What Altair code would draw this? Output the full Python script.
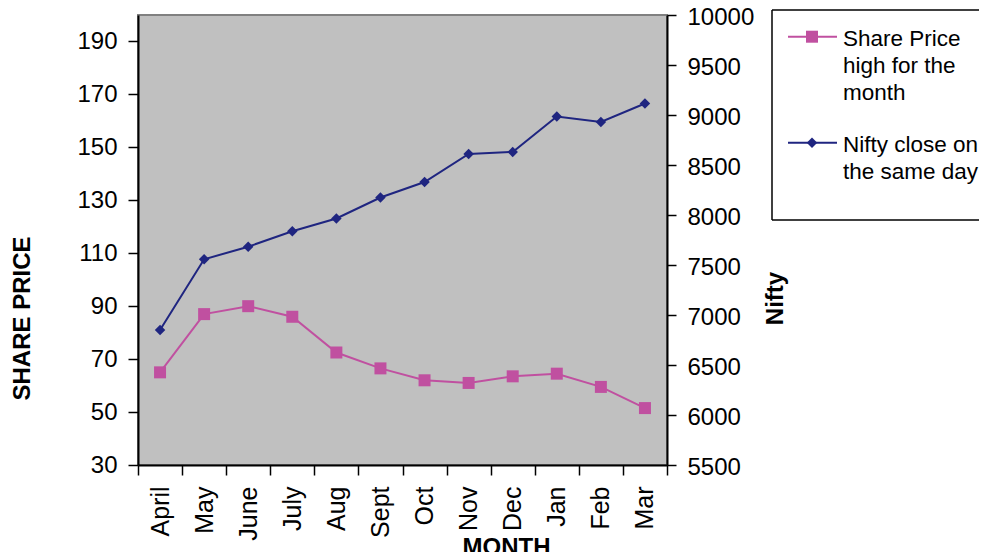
import altair as alt
import pandas as pd

months = ["April", "May", "June", "July", "Aug", "Sept", "Oct", "Nov", "Dec", "Jan", "Feb", "Mar"]
share_price = [65, 87, 90, 86, 72.5, 66.5, 62, 61, 63.5, 64.5, 59.5, 51.5]
nifty = [6850, 7557, 7683, 7837, 7965, 8175, 8330, 8610, 8630, 8985, 8930, 9115]
left_ticks = [30, 50, 70, 90, 110, 130, 150, 170, 190]
right_ticks = [5500, 6000, 6500, 7000, 7500, 8000, 8500, 9000, 9500, 10000]
legend_labels = [["Share Price", "high for the", "month"], ["Nifty close on", "the same day"]]

PINK = "#C050A0"
NAVY = "#1F2580"
FONT = "Liberation Sans"
FS = 24
LFS = 22.5

df = pd.DataFrame({"month": months, "share": share_price, "nifty": nifty})
base = alt.Chart(df)

xenc = alt.X(
    "month:N", sort=months, bandPosition=0.5,
    scale=alt.Scale(type="band", paddingInner=0, paddingOuter=0),
    axis=alt.Axis(
        title="MONTH", tickBand="extent", labelAngle=270, labelFontSize=25,
        labelFont=FONT, labelColor="black", labelPadding=11, tickSize=10,
        tickColor="black", tickWidth=1.5, domainColor="black", domainWidth=2,
        titleFont=FONT, titleFontSize=FS, titleFontWeight="bold", titleColor="black",
        titleX=368, titleY=70, titleAlign="center", titleBaseline="top",
    ),
)

share_line = base.mark_line(
    color=PINK, strokeWidth=2,
    point=alt.OverlayMarkDef(shape="square", size=144, color=PINK, filled=True, opacity=1),
).encode(
    x=xenc,
    y=alt.Y(
        "share:Q", scale=alt.Scale(domain=[30, 200], nice=False, zero=False),
        axis=alt.Axis(
            title="SHARE PRICE", orient="left", values=left_ticks, grid=False,
            labelFontSize=FS, labelFont=FONT, labelColor="black", labelPadding=11,
            tickSize=10, tickColor="black", tickWidth=1.5, domainColor="black", domainWidth=2,
            titleFont=FONT, titleFontSize=FS, titleFontWeight="bold", titleColor="black",
            titleAngle=270, titleAlign="center", titleBaseline="middle",
            titleX=-116, titleY=303,
        ),
    ),
)

nifty_line = base.mark_line(
    color=NAVY, strokeWidth=2,
    point=alt.OverlayMarkDef(shape="diamond", size=110, color=NAVY, filled=True, opacity=1),
).encode(
    x=xenc,
    y=alt.Y(
        "nifty:Q", scale=alt.Scale(domain=[5500, 10000], nice=False, zero=False),
        axis=alt.Axis(
            title="Nifty", orient="right", values=right_ticks, grid=False, format="d",
            labelFontSize=FS, labelFont=FONT, labelColor="black", labelPadding=11,
            labelOffset=2,
            tickSize=9, tickColor="black", tickWidth=1.5, domainColor="black", domainWidth=2,
            titleFont=FONT, titleFontSize=FS, titleFontWeight="bold", titleColor="black",
            titleAngle=270, titleAlign="center", titleBaseline="middle",
            titleX=108, titleY=283,
        ),
    ),
)

# legend (drawn outside the plot area)
leg_df = pd.DataFrame({"k": [0]})
lb = alt.Chart(leg_df)
box_top = lb.mark_rule(color="black", strokeWidth=1.5).encode(
    x=alt.value(634), x2=alt.value(860), y=alt.value(-5))
box_bot = lb.mark_rule(color="black", strokeWidth=1.5).encode(
    x=alt.value(634), x2=alt.value(860), y=alt.value(205))
box_left = lb.mark_rule(color="black", strokeWidth=1.5).encode(
    x=alt.value(634), y=alt.value(-5), y2=alt.value(205))

l1 = lb.mark_rule(color=PINK, strokeWidth=2).encode(
    x=alt.value(650), x2=alt.value(699), y=alt.value(21.7))
m1 = lb.mark_point(shape="square", size=144, color=PINK, filled=True, opacity=1).encode(
    x=alt.value(674), y=alt.value(21.7))
t1 = lb.mark_text(align="left", baseline="middle", font=FONT, fontSize=LFS, lineHeight=27,
                  color="black").encode(
    x=alt.value(705), y=alt.value(24), text=alt.value(legend_labels[0]))

l2 = lb.mark_rule(color=NAVY, strokeWidth=2).encode(
    x=alt.value(650), x2=alt.value(699), y=alt.value(127.7))
m2 = lb.mark_point(shape="diamond", size=110, color=NAVY, filled=True, opacity=1).encode(
    x=alt.value(674), y=alt.value(127.7))
t2 = lb.mark_text(align="left", baseline="middle", font=FONT, fontSize=LFS, lineHeight=27,
                  color="black").encode(
    x=alt.value(705), y=alt.value(130), text=alt.value(legend_labels[1]))

chart = alt.layer(
    share_line, nifty_line, box_top, box_bot, box_left, l1, m1, t1, l2, m2, t2
).resolve_scale(y="independent").properties(
    width=529, height=450,
    autosize=alt.AutoSizeParams(type="none"),
    padding={"left": 130, "top": 7, "right": 312, "bottom": 87},
    background="white",
).configure_view(
    fill="#C0C0C0", stroke="#808080", strokeWidth=2,
)

chart.save("out.html", embed_options={"renderer": "svg", "actions": False})
